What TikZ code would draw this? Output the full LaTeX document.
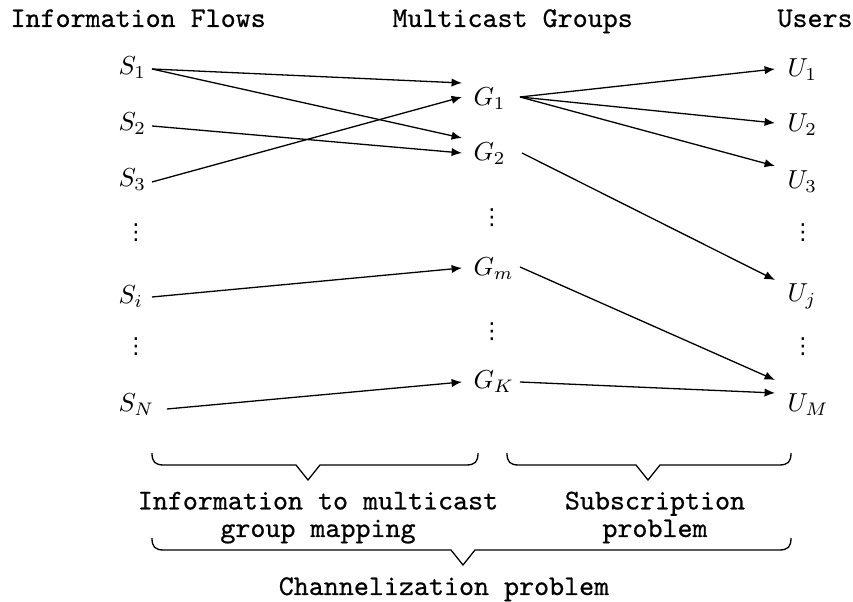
\documentclass[tikz,border=0pt]{standalone}
\usepackage{fontspec}
\setmonofont{Latin Modern Mono}[FakeBold=0.6]
\newfontfamily\symfont{DejaVu Sans}
\usetikzlibrary{arrows.meta}

\begin{document}
\begin{tikzpicture}[x=0.3846pt,y=-0.3846pt,
  lab/.style={font=\fontsize{11}{10.6}\selectfont\ttfamily, inner sep=0pt, align=center},
  sym/.style={inner sep=0pt, anchor=base west},
  dotsnode/.style={inner sep=0pt, font=\symfont\fontsize{8.5}{8.5}\selectfont},
  link/.style={line width=0.5pt, -{Latex[length=4pt,width=3.2pt]}},
  bracepath/.style={line width=0.5pt}]
\useasboundingbox (0,0) rectangle (853,602);

% column headings
\node[lab, anchor=base west] (hS) at (10,27)  {Information Flows};
\node[lab, anchor=base west] (hG) at (392,27) {Multicast Groups};
\node[lab, anchor=base west] (hU) at (777,27) {Users};

% information flows
\node[sym] (S1) at (118,75)  {$S_1$};
\node[sym] (S2) at (118,131) {$S_2$};
\node[sym] (S3) at (118,187) {$S_3$};
\node[dotsnode] (Sd1) at (136,233) {⋮};
\node[sym] (Si) at (118,304) {$S_i$};
\node[dotsnode] (Sd2) at (136,347) {⋮};
\node[sym] (SN) at (118,412) {$S_N$};

% multicast groups
\node[sym] (G1) at (473,106) {$G_1$};
\node[sym] (G2) at (473,161) {$G_2$};
\node[dotsnode] (Gd1) at (492,218) {⋮};
\node[sym] (Gm) at (473,276) {$G_m$};
\node[dotsnode] (Gd2) at (492,332) {⋮};
\node[sym] (GK) at (473,389) {$G_K$};

% users
\node[sym] (U1) at (787,77)  {$U_1$};
\node[sym] (U2) at (787,132) {$U_2$};
\node[sym] (U3) at (787,189) {$U_3$};
\node[dotsnode] (Ud1) at (803,233) {⋮};
\node[sym] (Uj) at (787,302) {$U_j$};
\node[dotsnode] (Ud2) at (803,347) {⋮};
\node[sym] (UM) at (787,412) {$U_M$};

% flows to groups
\draw[link] ([shift={(34,-6)}]S1.base west) -- ([shift={(-11,-23)}]G1.base west);
\draw[link] ([shift={(34,-6)}]S1.base west) -- ([shift={(-11,-23)}]G2.base west);
\draw[link] ([shift={(34,-5)}]S2.base west) -- ([shift={(-11,-8)}]G2.base west);
\draw[link] ([shift={(34,-5)}]S3.base west) -- ([shift={(-11,-9)}]G1.base west);
\draw[link] ([shift={(34,-7)}]Si.base west) -- ([shift={(-11,-8)}]Gm.base west);
\draw[link] ([shift={(49,-3)}]SN.base west) -- ([shift={(-11,-7)}]GK.base west);

% groups to users
\draw[link] ([shift={(47,-9)}]G1.base west) -- ([shift={(-12,-8)}]U1.base west);
\draw[link] ([shift={(47,-9)}]G1.base west) -- ([shift={(-12,-9)}]U2.base west);
\draw[link] ([shift={(47,-9)}]G1.base west) -- ([shift={(-12,-23)}]U3.base west);
\draw[link] ([shift={(49,-8)}]G2.base west) -- ([shift={(-12,-22)}]Uj.base west);
\draw[link] ([shift={(47,-9)}]Gm.base west) -- ([shift={(-12,-32)}]UM.base west);
\draw[link] ([shift={(47,-7)}]GK.base west) -- ([shift={(-12,-19)}]UM.base west);

% braces
\draw[bracepath] (152,453) .. controls (152,462) and (155,465) .. (164,465)
  -- (296,465) -- (308,480) -- (320,465) -- (466,465)
  .. controls (475,465) and (478,462) .. (478,453);
\draw[bracepath] (507,453) .. controls (507,462) and (510,465) .. (519,465)
  -- (636,465) -- (648,480) -- (660,465) -- (779,465)
  .. controls (788,465) and (791,462) .. (791,453);
\draw[bracepath] (152,538) .. controls (152,547) and (155,550) .. (164,550)
  -- (451,550) -- (463,565) -- (475,550) -- (779,550)
  .. controls (788,550) and (791,547) .. (791,538);

% brace labels (anchored at the baseline of their last line)
\node[lab, anchor=base] (mapL) at (318,537) {Information to multicast\\group mapping};
\node[lab, anchor=base] (subL) at (655,537) {Subscription\\problem};
\node[lab, anchor=base] (chanL) at (444,595) {Channelization problem};
\end{tikzpicture}
\end{document}
